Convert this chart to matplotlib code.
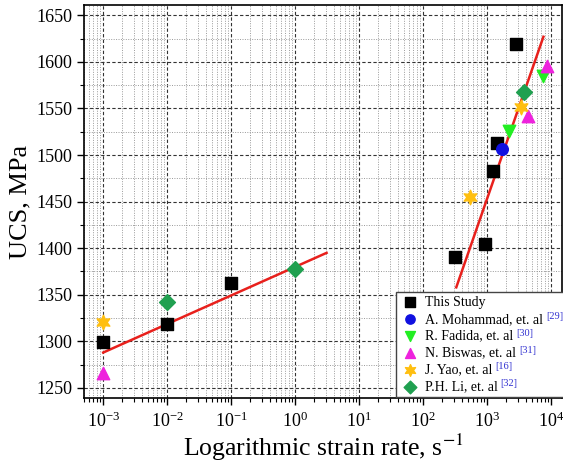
import numpy as np
import matplotlib.pyplot as plt
from matplotlib.ticker import LogLocator, MultipleLocator, NullFormatter

# This study
study_x = [1e-3, 1e-2, 1e-1, 313, 920, 1250, 1450, 2800]
study_y = [1299, 1319, 1363, 1391, 1404, 1483, 1513, 1619]
# literature
moh_x = [1720]
moh_y = [1506]
fad_x = [2200, 7500]
fad_y = [1526, 1585]
bis_x = [1e-3, 4400, 8500]
bis_y = [1266, 1542, 1596]
yao_x = [1e-3, 540, 3350]
yao_y = [1321, 1455, 1552]
li_x = [1e-2, 1.0, 3800]
li_y = [1342, 1378, 1568]
# fitted lines (end points)
fit_low_x = [1e-3, 3.1]
fit_low_y = [1288, 1395]
fit_high_x = [330, 7600]
fit_high_y = [1358, 1627]

labels = ["This Study", "A. Mohammad, et. al", "R. Fadida, et. al",
          "N. Biswas, et. al", "J. Yao, et. al", "P.H. Li, et. al"]
refs = ["", "[29]", "[30]", "[31]", "[16]", "[32]"]

plt.rcParams["font.family"] = ["Liberation Serif", "DejaVu Serif"]
plt.rcParams["mathtext.fontset"] = "stix"

fig = plt.figure(figsize=(5.63, 4.63), dpi=100)
ax = fig.add_axes([0.149, 0.140, 0.850, 0.849])

ax.set_xscale("log")
ax.set_xlim(10 ** -3.302, 10 ** 4.178)
ax.set_ylim(1239, 1661)
ax.yaxis.set_major_locator(MultipleLocator(50))
ax.yaxis.set_minor_locator(MultipleLocator(25))
ax.xaxis.set_major_locator(LogLocator(base=10, numticks=20))
ax.xaxis.set_minor_locator(LogLocator(base=10, subs=np.arange(2, 10), numticks=20))
ax.xaxis.set_minor_formatter(NullFormatter())

ax.grid(which="major", color="#333333", linestyle=(0, (3, 2)), linewidth=0.8)
ax.grid(which="minor", color="#999999", linestyle=(0, (1, 1.5)), linewidth=0.7)
ax.set_axisbelow(True)

ax.plot(fit_low_x, fit_low_y, color="#e8201c", lw=1.8, zorder=3)
ax.plot(fit_high_x, fit_high_y, color="#e8201c", lw=1.8, zorder=3)

# non-breaking spaces leave room inside the frame for the reference numbers
pad = "\u00a0" * 7
ax.scatter(study_x, study_y, marker="s", s=80, color="black", label=labels[0], zorder=4)
ax.scatter(moh_x, moh_y, marker="o", s=70, color="#1010e0", label=labels[1] + pad, zorder=4)
ax.scatter(fad_x, fad_y, marker="v", s=80, color="#22ee22", label=labels[2], zorder=4)
ax.scatter(bis_x, bis_y, marker="^", s=80, color="#ee22dd", label=labels[3], zorder=4)
ax.scatter(yao_x, yao_y, marker=(6, 1, 0), s=110, color="#ffbf10", label=labels[4], zorder=4)
ax.scatter(li_x, li_y, marker="D", s=65, color="#20a050", label=labels[5], zorder=4)

ax.tick_params(which="major", direction="out", length=5, width=1, labelsize=13)
ax.tick_params(which="minor", direction="out", length=3, width=0.8)
ax.tick_params(axis="x", pad=5)
for sp in ax.spines.values():
    sp.set_linewidth(1.2)

ax.set_xlabel("Logarithmic strain rate, s$^{-1}$", fontsize=18.5, labelpad=0)
ax.set_ylabel("UCS, MPa", fontsize=19, labelpad=3)

leg = ax.legend(loc="lower left", bbox_to_anchor=(0.650, 0.0), fontsize=10,
                frameon=True, fancybox=False, edgecolor="#444444", framealpha=1,
                borderaxespad=0.1, handletextpad=0.3, labelspacing=0.28,
                borderpad=0.25, markerscale=0.8, handlelength=1.5)
leg.get_frame().set_linewidth(1.0)

# blue reference numbers after the legend labels
fig.canvas.draw()
inv = fig.transFigure.inverted()
for txt, lab, ref in zip(leg.get_texts(), labels, refs):
    if ref:
        full = txt.get_text()
        bb = txt.get_window_extent()
        txt.set_text(lab)
        w = txt.get_window_extent().width
        txt.set_text(full)
        x0, y0 = inv.transform((bb.x0 + w + 3, bb.y1 + 1))
        fig.text(x0, y0, ref, fontsize=7.5, color="#3030d0", va="top", ha="left")

fig.savefig("out.png", dpi=100)
